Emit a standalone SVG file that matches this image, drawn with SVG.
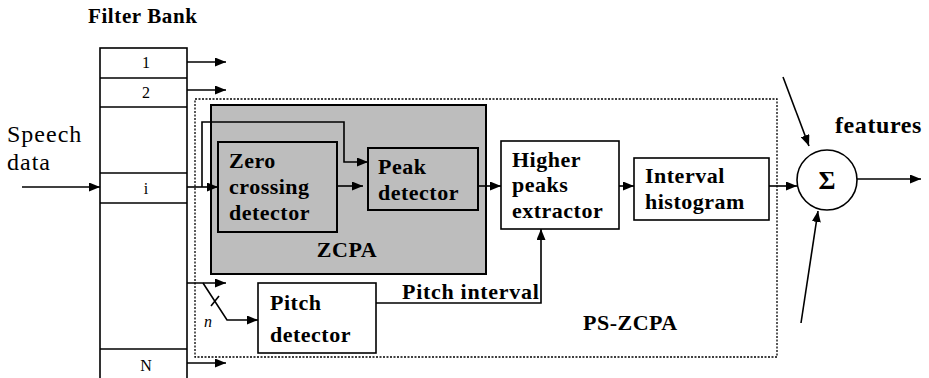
<svg xmlns="http://www.w3.org/2000/svg" width="929" height="378" viewBox="0 0 929 378">
<defs>
<marker id="ah" markerWidth="11" markerHeight="9" refX="11" refY="4.5" orient="auto" markerUnits="userSpaceOnUse"><path d="M0,0 L11,4.5 L0,9 z" fill="#000"/></marker>
</defs>
<style>
.box{fill:#fff;stroke:#000;stroke-width:1.6}
.gbox{fill:#bdbdbd;stroke:#000;stroke-width:2}
.ln{fill:none;stroke:#000;stroke-width:1.6}
.arr{fill:none;stroke:#000;stroke-width:1.6;marker-end:url(#ah)}
</style>
<rect width="929" height="378" fill="#fff"/>

<g id="title" font-family="Liberation Serif, serif" font-weight="bold" font-size="21" letter-spacing="0.6"><text x="88" y="23">Filter Bank</text></g>
<g id="speech" font-family="Liberation Serif, serif" font-size="24" letter-spacing="1"><text x="7" y="142">Speech</text><text x="7" y="170">data</text></g>

<g id="filterbank" font-family="Liberation Serif, serif" font-size="16" text-anchor="middle">
<rect x="100" y="48" width="87" height="340" class="box"/>
<line x1="100" y1="78" x2="187" y2="78" class="ln"/>
<line x1="100" y1="107" x2="187" y2="107" class="ln"/>
<line x1="100" y1="173" x2="187" y2="173" class="ln"/>
<line x1="100" y1="203" x2="187" y2="203" class="ln"/>
<line x1="100" y1="349" x2="187" y2="349" class="ln"/>
<text x="146" y="68">1</text>
<text x="146" y="98">2</text>
<text x="146" y="194">i</text>
<text x="146" y="371">N</text>
</g>

<g id="pszcpa" font-family="Liberation Serif, serif" font-weight="bold" font-size="22" letter-spacing="0.5">
<rect x="195" y="99" width="582" height="258" fill="none" stroke="#000" stroke-width="1.3" stroke-dasharray="2,1.5"/>
<text x="583" y="330">PS-ZCPA</text>
</g>

<g id="zcpa" font-family="Liberation Serif, serif" font-weight="bold" font-size="22" letter-spacing="0.5">
<rect x="211" y="105" width="275" height="169" class="gbox"/>
<text x="347" y="257" text-anchor="middle">ZCPA</text>
</g>

<g id="zcd" font-family="Liberation Serif, serif" font-weight="bold" font-size="22" letter-spacing="0.5">
<rect x="218" y="142" width="119" height="90" class="gbox"/>
<text x="229" y="168">Zero</text>
<text x="229" y="194">crossing</text>
<text x="229" y="220">detector</text>
</g>

<g id="peak" font-family="Liberation Serif, serif" font-weight="bold" font-size="22" letter-spacing="0.5">
<rect x="368" y="148" width="110" height="62" class="gbox"/>
<text x="378" y="174">Peak</text>
<text x="378" y="200">detector</text>
</g>

<g id="higher" font-family="Liberation Serif, serif" font-weight="bold" font-size="22" letter-spacing="0.5">
<rect x="501" y="141" width="118" height="88" class="box"/>
<text x="512" y="167">Higher</text>
<text x="512" y="192">peaks</text>
<text x="512" y="218">extractor</text>
</g>

<g id="interval" font-family="Liberation Serif, serif" font-weight="bold" font-size="22" letter-spacing="0.5">
<rect x="634" y="158" width="135" height="62" class="box"/>
<text x="645" y="183">Interval</text>
<text x="645" y="209">histogram</text>
</g>

<g id="pitch" font-family="Liberation Serif, serif" font-weight="bold" font-size="22" letter-spacing="0.5">
<rect x="258" y="283" width="118" height="70" class="box"/>
<text x="270" y="310">Pitch</text>
<text x="270" y="342">detector</text>
</g>

<g id="sum" font-family="Liberation Serif, serif" font-weight="bold">
<circle cx="827" cy="180" r="30" fill="#fff" stroke="#000" stroke-width="1.6"/>
<text x="827" y="189" text-anchor="middle" font-size="26">Σ</text>
<text x="835" y="133" font-size="24" letter-spacing="0.6">features</text>
</g>

<g id="connectors">
<line x1="22" y1="187" x2="100" y2="187" class="arr"/>
<line x1="187" y1="62" x2="226" y2="62" class="arr"/>
<line x1="187" y1="90" x2="226" y2="90" class="arr"/>
<line x1="187" y1="363" x2="226" y2="363" class="arr"/>
<line x1="187" y1="187" x2="218" y2="187" class="arr"/>
<polyline points="202,187 202,122 344,122 344,162 368,162" class="arr"/>
<line x1="337" y1="186" x2="363" y2="186" class="arr"/>
<line x1="478" y1="186" x2="501" y2="186" class="arr"/>
<line x1="619" y1="186" x2="634" y2="186" class="arr"/>
<line x1="769" y1="186" x2="797" y2="186" class="arr"/>
<line x1="857" y1="179" x2="921" y2="179" class="arr"/>
<line x1="783" y1="77" x2="809" y2="146" class="arr"/>
<line x1="801" y1="323" x2="818" y2="211" class="arr"/>
<line x1="187" y1="283" x2="226" y2="283" class="arr"/>
<polyline points="203,283 227,320 258,320" class="arr"/>
<line x1="211" y1="306" x2="219" y2="296" class="ln"/>
<polyline points="376,303 541,303 541,229" class="arr"/>
<text x="402" y="299" font-family="Liberation Serif, serif" font-weight="bold" font-size="22" letter-spacing="0.7">Pitch interval</text>
<text x="204" y="327" font-family="Liberation Serif, serif" font-style="italic" font-size="16">n</text>
</g>
</svg>
